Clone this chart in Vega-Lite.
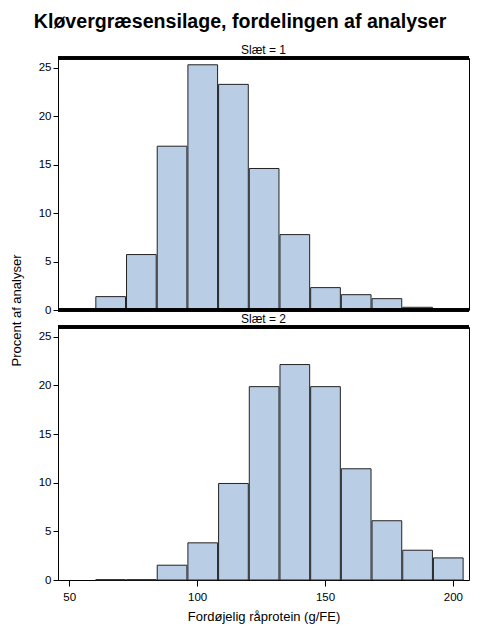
{
  "$schema": "https://vega.github.io/schema/vega-lite/v6.json",
  "padding": {"left": 9, "top": 12, "right": 11, "bottom": 10},
  "title": {
    "text": "Kløvergræsensilage, fordelingen af analyser",
    "fontSize": 19.6,
    "fontWeight": "bold",
    "anchor": "middle",
    "frame": "bounds",
    "offset": 8,
    "color": "black"
  },
  "data": {
    "values": [
      {"slaet": 1, "bin_start": 60, "bin_end": 72, "pct": 1.38},
      {"slaet": 1, "bin_start": 72, "bin_end": 84, "pct": 5.72},
      {"slaet": 1, "bin_start": 84, "bin_end": 96, "pct": 16.9},
      {"slaet": 1, "bin_start": 96, "bin_end": 108, "pct": 25.3},
      {"slaet": 1, "bin_start": 108, "bin_end": 120, "pct": 23.28},
      {"slaet": 1, "bin_start": 120, "bin_end": 132, "pct": 14.6},
      {"slaet": 1, "bin_start": 132, "bin_end": 144, "pct": 7.78},
      {"slaet": 1, "bin_start": 144, "bin_end": 156, "pct": 2.31},
      {"slaet": 1, "bin_start": 156, "bin_end": 168, "pct": 1.58},
      {"slaet": 1, "bin_start": 168, "bin_end": 180, "pct": 1.17},
      {"slaet": 1, "bin_start": 180, "bin_end": 192, "pct": 0.28},
      {"slaet": 1, "bin_start": 192, "bin_end": 204, "pct": 0.07},
      {"slaet": 2, "bin_start": 60, "bin_end": 72, "pct": 0.03},
      {"slaet": 2, "bin_start": 72, "bin_end": 84, "pct": 0.03},
      {"slaet": 2, "bin_start": 84, "bin_end": 96, "pct": 1.52},
      {"slaet": 2, "bin_start": 96, "bin_end": 108, "pct": 3.82},
      {"slaet": 2, "bin_start": 108, "bin_end": 120, "pct": 9.92},
      {"slaet": 2, "bin_start": 120, "bin_end": 132, "pct": 19.87},
      {"slaet": 2, "bin_start": 132, "bin_end": 144, "pct": 22.14},
      {"slaet": 2, "bin_start": 144, "bin_end": 156, "pct": 19.87},
      {"slaet": 2, "bin_start": 156, "bin_end": 168, "pct": 11.43},
      {"slaet": 2, "bin_start": 168, "bin_end": 180, "pct": 6.09},
      {"slaet": 2, "bin_start": 180, "bin_end": 192, "pct": 3.06},
      {"slaet": 2, "bin_start": 192, "bin_end": 204, "pct": 2.27}
    ]
  },
  "spacing": 0,
  "bounds": "flush",
  "vconcat": [
    {
      "width": 411,
      "height": 17,
      "data": {"values": [{"label": "Slæt = 1"}]},
      "mark": {"type": "text", "fontSize": 12, "color": "black"},
      "encoding": {"text": {"field": "label"}}
    },
    {
      "width": 411,
      "height": 252,
      "transform": [{"filter": "datum.slaet == 1"}],
      "layer": [
        {
          "mark": {"type": "bar", "fill": "#B9CDE5", "stroke": "#222222", "strokeWidth": 1},
          "encoding": {
            "x": {
              "field": "bin_start",
              "type": "quantitative",
              "bin": "binned",
              "scale": {"domain": [45.6, 206.3], "nice": false, "zero": false},
              "axis": null
            },
            "x2": {"field": "bin_end"},
            "y": {
              "field": "pct",
              "type": "quantitative",
              "scale": {"domain": [0, 26], "nice": false},
              "axis": {"values": [0, 5, 10, 15, 20, 25], "title": null}
            }
          }
        },
        {
          "mark": {"type": "rule", "color": "black", "strokeWidth": 2.5},
          "encoding": {"y": {"datum": 26}}
        },
        {
          "mark": {"type": "rule", "color": "black", "strokeWidth": 2.5},
          "encoding": {"y": {"datum": 0}}
        }
      ]
    },
    {
      "width": 411,
      "height": 17,
      "data": {"values": [{"label": "Slæt = 2"}]},
      "mark": {"type": "text", "fontSize": 12, "color": "black"},
      "encoding": {"text": {"field": "label"}}
    },
    {
      "width": 411,
      "height": 253,
      "transform": [{"filter": "datum.slaet == 2"}],
      "layer": [
        {
          "mark": {"type": "bar", "fill": "#B9CDE5", "stroke": "#222222", "strokeWidth": 1},
          "encoding": {
            "x": {
              "field": "bin_start",
              "type": "quantitative",
              "bin": "binned",
              "scale": {"domain": [45.6, 206.3], "nice": false, "zero": false},
              "axis": {
                "values": [50, 100, 150, 200],
                "title": "Fordøjelig råprotein (g/FE)",
                "tickSize": 6,
                "labelPadding": 5,
                "titlePadding": 8
              }
            },
            "x2": {"field": "bin_end"},
            "y": {
              "field": "pct",
              "type": "quantitative",
              "scale": {"domain": [0, 26], "nice": false},
              "axis": {
                "values": [0, 5, 10, 15, 20, 25],
                "title": "Procent af analyser",
                "titleX": -35,
                "titleY": -17,
                "titleAngle": 270,
                "titleAlign": "center",
                "titleBaseline": "bottom"
              }
            }
          }
        },
        {
          "mark": {"type": "rule", "color": "black", "strokeWidth": 2.5},
          "encoding": {"y": {"datum": 26}}
        }
      ]
    }
  ],
  "config": {
    "font": "Liberation Sans",
    "background": "white",
    "view": {"stroke": "black", "strokeWidth": 1},
    "axis": {
      "grid": false,
      "domain": false,
      "labelColor": "black",
      "tickColor": "black",
      "titleColor": "black",
      "labelFontSize": 11.5,
      "titleFontSize": 13,
      "titleFontWeight": "normal",
      "tickSize": 5
    }
  }
}
